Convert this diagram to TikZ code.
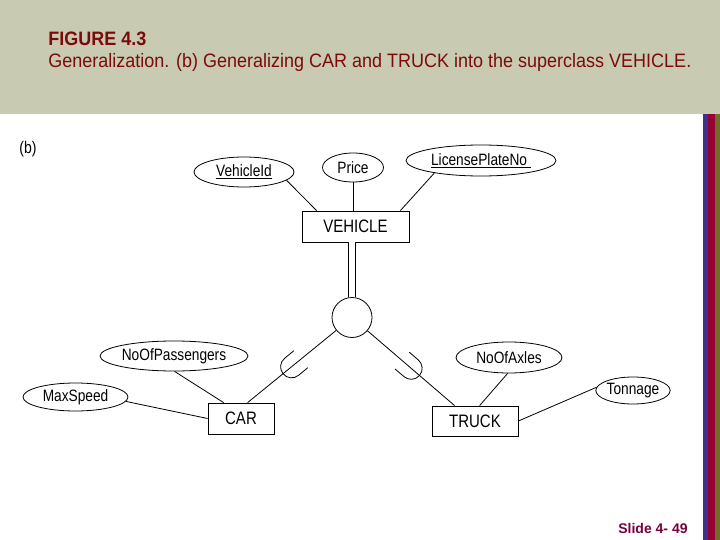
\documentclass[tikz,border=0pt]{standalone}
\usepackage{fontspec}
\usepackage{graphicx}
\setmainfont{Liberation Sans}
\usetikzlibrary{shapes.geometric,calc}
\definecolor{hdr}{RGB}{200,203,178}
\definecolor{ttl}{RGB}{125,10,10}
\definecolor{sld}{RGB}{120,0,60}
\definecolor{stripeB}{RGB}{60,50,140}
\definecolor{stripeR}{RGB}{150,0,50}
\definecolor{stripeO}{RGB}{110,110,40}
\newcommand{\tallt}[1]{\scalebox{1}[1.2]{#1}}
\begin{document}
\begin{tikzpicture}[x=1pt,y=-1pt,line width=0.8pt,
  attr/.style={draw,ellipse,inner sep=0pt,font=\fontsize{13.7}{15}\selectfont},
  ent/.style={draw,rectangle,inner sep=0pt,font=\fontsize{15}{17}\selectfont},
  cupsym/.style={line width=0.8pt}]
\useasboundingbox (0,0) rectangle (720,540);
\fill[white] (0,0) rectangle (720,540);
\fill[hdr] (0,0) rectangle (720,114);
\fill[stripeB] (703,114) rectangle (708,540);
\fill[stripeR] (708,114) rectangle (715,540);
\fill[stripeO] (715,114) rectangle (720,540);

\node[anchor=base west,text=ttl,font=\bfseries\fontsize{18}{20}\selectfont,inner sep=0pt] (fig) at (48,46) {\scalebox{1}[1.08]{FIGURE 4.3}};
\node[anchor=base west,text=ttl,font=\fontsize{18}{20}\selectfont,inner sep=0pt] (cap) at (48,68) {\scalebox{1}[1.08]{Generalization. (b) Generalizing CAR and TRUCK into the superclass VEHICLE.}};
\node[anchor=base east,text=sld,font=\bfseries\fontsize{14}{16}\selectfont,inner sep=0pt] (slide) at (688,533) {Slide 4- 49};
\node[anchor=base west,font=\fontsize{14}{16}\selectfont,inner sep=0pt] (blabel) at (19,154) {\tallt{(b)}};

% entities
\node[ent,minimum width=107pt,minimum height=31pt] (veh) at (355.5,226.5) {\tallt{VEHICLE}\hspace{10pt}};
\node[ent,minimum width=66pt,minimum height=31pt] (car) at (241,418.5) {\tallt{CAR}\hspace{2pt}};
\node[ent,minimum width=86pt,minimum height=30pt] (truck) at (475,421) {\tallt{TRUCK}\hspace{3pt}};

% attributes
\node[attr,minimum width=100pt,minimum height=30pt] (vid) at (244,172) {\tallt{\underline{VehicleId}}};
\node[attr,minimum width=61pt,minimum height=29pt] (price) at (353,167.5) {\tallt{Price}};
\node[attr,minimum width=150pt,minimum height=31pt] (lpn) at (481,160.5) {\tallt{\underline{LicensePlateNo\ }}};
\node[attr,minimum width=148pt,minimum height=30pt] (nop) at (174,356) {\tallt{NoOfPassengers}};
\node[attr,minimum width=105pt,minimum height=28pt] (maxs) at (75.5,397) {\tallt{MaxSpeed}};
\node[attr,minimum width=106pt,minimum height=31pt] (noa) at (509,357.5) {\tallt{NoOfAxles}};
\node[attr,minimum width=74pt,minimum height=27pt] (ton) at (633,390.5) {\tallt{Tonnage}};

% specialization circle
\node[draw,circle,minimum size=40pt,inner sep=0pt] (circ) at (352,317.5) {};

% attribute links
\draw (vid.-11) -- ([xshift=15pt]veh.north west);
\draw (price.south) -- (price.south |- veh.north);
\draw (lpn.-165) -- ([xshift=-9pt]veh.north east);
\draw (nop.-88) -- ([xshift=16pt]car.north west);
\draw (maxs.-5) -- (car.west);
\draw (noa.-95) -- ([xshift=48pt]truck.north west);
\draw (truck.east) -- (ton.175);

% superclass link
\draw[double,double distance=5.8pt] (circ.north |- veh.south) -- (circ.north);

% subclass links
\coordinate (cartop) at ([xshift=40pt]car.north west);
\coordinate (trucktop) at ([xshift=23pt]truck.north west);
\draw (circ) -- (cartop);
\draw (circ) -- (trucktop);
\begin{scope}[shift={($(circ.center)!66pt!(cartop)$)},rotate=219.43]
  \draw[cupsym] (0,11) -- (12,11) arc[start angle=90,end angle=-90,radius=11] -- (0,-11);
\end{scope}
\begin{scope}[shift={($(circ.center)!66pt!(trucktop)$)},rotate=-40.67]
  \draw[cupsym] (0,11) -- (12,11) arc[start angle=90,end angle=-90,radius=11] -- (0,-11);
\end{scope}
\end{tikzpicture}
\end{document}
